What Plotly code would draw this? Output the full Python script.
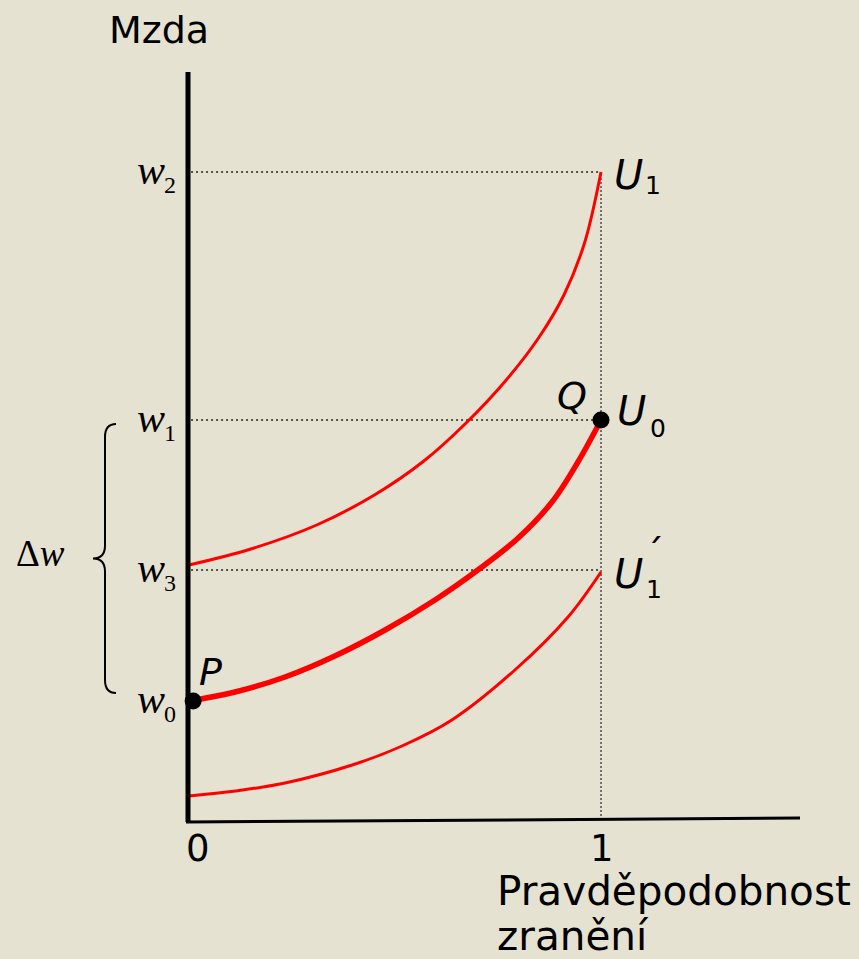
import plotly.graph_objects as go

# --- data -----------------------------------------------------------------
# probability of injury (0..1) and wage levels (arbitrary units)
wage_levels = {"w0": 1.19, "w3": 2.50, "w1": 4.00, "w2": 6.48}

u1_p = [0.000, 0.150, 0.310, 0.450, 0.570, 0.675, 0.770, 0.850, 0.910, 0.960, 1.000]
u1_w = [2.55, 2.71, 2.95, 3.25, 3.59, 3.98, 4.40, 4.83, 5.25, 5.77, 6.48]

u0_p = [0.000, 0.112, 0.233, 0.354, 0.476, 0.597, 0.701, 0.799, 0.881, 0.944, 1.000]
u0_w = [1.19, 1.28, 1.43, 1.64, 1.90, 2.20, 2.50, 2.82, 3.18, 3.58, 4.00]

u1b_p = [0.000, 0.113, 0.233, 0.396, 0.517, 0.638, 0.791, 0.920, 1.000]
u1b_w = [0.24, 0.29, 0.37, 0.55, 0.74, 1.00, 1.50, 2.03, 2.48]

points = {"P": (0.0, 1.19), "Q": (1.0, 4.00)}
x_ticks = [0, 1]

# --- canvas geometry --------------------------------------------------------
W, H = 859, 959
X0_PX, PX_PER_P = 189, 412      # pixel of p=0, pixels per unit of p
Y0_PX, PX_PER_W = 820, 100      # pixel of w=0, pixels per unit of w

BG = "#E5E2D2"
RED = "#FF0000"
SANS = "DejaVu Sans"
SERIF = "Liberation Serif"


def px_x(px):
    return (px - X0_PX) / PX_PER_P


def px_y(py):
    return (Y0_PX - py) / PX_PER_W


fig = go.Figure()

# dotted guide lines from the wage axis to p = 1
for key in ["w2", "w1", "w3"]:
    w = wage_levels[key]
    fig.add_trace(go.Scatter(x=[0.005, 1.0], y=[w, w], mode="lines",
                             line=dict(color="#222", width=1.6, dash="2px,3px"),
                             hoverinfo="skip", showlegend=False))
fig.add_trace(go.Scatter(x=[1.0, 1.0], y=[0, wage_levels["w2"]], mode="lines",
                         line=dict(color="#555", width=1.6, dash="2px,2px"),
                         hoverinfo="skip", showlegend=False))

# indifference curves
curve = dict(shape="spline", smoothing=1.0)
fig.add_trace(go.Scatter(x=u1_p, y=u1_w, mode="lines",
                         line=dict(color=RED, width=3, **curve), showlegend=False))
fig.add_trace(go.Scatter(x=u1b_p, y=u1b_w, mode="lines",
                         line=dict(color=RED, width=3, **curve), showlegend=False))
fig.add_trace(go.Scatter(x=u0_p, y=u0_w, mode="lines",
                         line=dict(color=RED, width=5.5, **curve), showlegend=False))

# axes
fig.add_shape(type="line", x0=px_x(188), x1=px_x(188), y0=px_y(822), y1=px_y(72),
              line=dict(color="black", width=5))
fig.add_shape(type="line", x0=px_x(186), x1=px_x(800), y0=px_y(822), y1=px_y(818),
              line=dict(color="black", width=3))

# points P and Q
fig.add_trace(go.Scatter(x=[points["P"][0] + 0.01, points["Q"][0]],
                         y=[points["P"][1], points["Q"][1]], mode="markers",
                         marker=dict(color="black", size=17), showlegend=False))

# brace marking the wage differential between w0 and w1
yT = wage_levels["w1"] - 0.04
yB = wage_levels["w0"] + 0.08
yM = (yT + yB) / 2
xa, xv, xm = px_x(116), px_x(105), px_x(93)
d = 0.13
brace = (f"M {xa},{yT} Q {xv},{yT} {xv},{yT - d} L {xv},{yM + d} "
         f"Q {xv},{yM} {xm},{yM} Q {xv},{yM} {xv},{yM - d} "
         f"L {xv},{yB + d} Q {xv},{yB} {xa},{yB}")
fig.add_shape(type="path", path=brace, line=dict(color="black", width=2))

ann = []


def text(x, y, s, size, family=SANS, xanchor="center", yanchor="middle", xshift=0, tight=False):
    a = dict(x=x, y=y, text=s, showarrow=False, xref="x", yref="y",
             xanchor=xanchor, yanchor=yanchor, xshift=xshift,
             font=dict(family=family, size=size, color="black"))
    if tight:
        a.update(borderpad=0, borderwidth=0)
    ann.append(a)


# axis titles and ticks
text(px_x(159), px_y(30), "Mzda", 38)
tick_shift = {0: 9, 1: 1}
for t in x_ticks:
    text(t, px_y(848), str(t), 37, xshift=tick_shift[t], tight=True)
text(px_x(497), px_y(891), "Pravděpodobnost", 40.5, xanchor="left", tight=True)
text(px_x(497), px_y(936), "zranění", 40.5, xanchor="left", tight=True)

# wage labels: italic w with subscript index
for key in ["w2", "w1", "w3", "w0"]:
    w = wage_levels[key]
    text(px_x(151), w + 0.02, "<i>w</i>", 42, family=SERIF)
    text(px_x(162), w - 0.13, key[1], 24, family=SERIF, xanchor="left")

text(px_x(40), px_y(553), "Δ<i>w</i>", 37, family=SERIF)

# curve labels
text(px_x(612), u1_w[-1] - 0.03, "<i>U</i>", 40, xanchor="left")
text(px_x(643), u1_w[-1] - 0.13, "1", 25, xanchor="left")
text(px_x(615), u0_w[-1] + 0.09, "<i>U</i>", 40, xanchor="left")
text(px_x(648), u0_w[-1] - 0.08, "0", 25, xanchor="left")
text(px_x(612), u1b_w[-1] - 0.02, "<i>U</i>", 40, xanchor="left")
text(px_x(644), u1b_w[-1] - 0.17, "1", 25, xanchor="left")
text(px_x(643), u1b_w[-1] + 0.19, "´", 38, xanchor="left")

# point labels
text(px_x(210), px_y(672), "<i>P</i>", 38)
text(px_x(572), px_y(396), "<i>Q</i>", 38)

fig.update_layout(
    width=W, height=H,
    margin=dict(l=0, r=0, t=0, b=0),
    paper_bgcolor=BG, plot_bgcolor=BG,
    xaxis=dict(range=[px_x(0), px_x(W)], visible=False, fixedrange=True),
    yaxis=dict(range=[px_y(H), px_y(0)], visible=False, fixedrange=True),
    annotations=ann,
    showlegend=False,
)

fig.write_html("out.html")
